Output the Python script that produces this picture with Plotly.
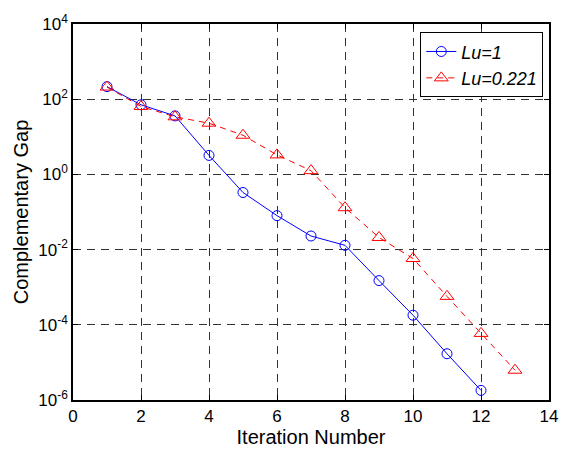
import plotly.graph_objects as go

iter_blue = [1, 2, 3, 4, 5, 6, 7, 8, 9, 10, 11, 12]
gap_blue = [216, 71, 36, 3.2, 0.33, 0.08, 0.023, 0.013, 1.5e-3, 1.8e-4, 1.7e-5, 1.8e-6]
iter_red = [1, 2, 3, 4, 5, 6, 7, 8, 9, 10, 11, 12, 13]
gap_red = [210, 64, 34, 23, 11, 3.3, 1.26, 0.13, 0.021, 5.8e-3, 5.7e-4, 5.9e-5, 6.2e-6]
name_blue = "<i>Lu=1</i>"
name_red = "<i>Lu=0.221</i>"
x_ticks = [0, 2, 4, 6, 8, 10, 12, 14]
y_exps = [-6, -4, -2, 0, 2, 4]

font = "Liberation Sans, Arial, sans-serif"

fig = go.Figure()
fig.add_trace(go.Scatter(
    x=iter_blue, y=gap_blue, name=name_blue, mode="lines+markers",
    line=dict(color="#0000ff", width=1),
    marker=dict(symbol="circle-open", size=10, color="#0000ff", line=dict(width=1)),
))
fig.add_trace(go.Scatter(
    x=iter_red, y=gap_red, name=name_red, mode="lines+markers",
    line=dict(color="#ff0000", width=1, dash="6px,5px"),
    marker=dict(symbol="triangle-up-open", size=12, color="#ff0000", line=dict(width=1)),
))

fig.update_layout(
    width=568, height=452,
    margin=dict(l=73, r=10, t=24, b=48),
    paper_bgcolor="white", plot_bgcolor="white",
    font=dict(family=font, size=16, color="black"),
    showlegend=True,
    legend=dict(
        x=0.988, y=0.978, xanchor="right", yanchor="top",
        bgcolor="white", bordercolor="black", borderwidth=1,
        font=dict(size=18, family=font), tracegroupgap=0,
    ),
    xaxis=dict(
        range=[0, 14], tickvals=x_ticks, ticktext=[str(v) for v in x_ticks],
        showgrid=True, gridcolor="#333333", griddash="8px,6px", gridwidth=1,
        showline=True, linecolor="black", linewidth=1.5, mirror="ticks",
        ticks="inside", ticklen=5, tickcolor="black",
        zeroline=False,
        title=dict(text="Iteration Number", font=dict(size=20), standoff=2),
        tickfont=dict(size=17),
    ),
    yaxis=dict(
        type="log", range=[-6, 4],
        tickvals=[10 ** e for e in y_exps],
        ticktext=["10<sup>%d</sup>" % e for e in y_exps],
        showgrid=True, gridcolor="#333333", griddash="8px,6px", gridwidth=1,
        showline=True, linecolor="black", linewidth=1.5, mirror="ticks",
        ticks="inside", ticklen=5, tickcolor="black",
        zeroline=False,
        title=dict(text="Complementary Gap", font=dict(size=20), standoff=4),
        tickfont=dict(size=17),
    ),
)

fig.write_html("out.html")
